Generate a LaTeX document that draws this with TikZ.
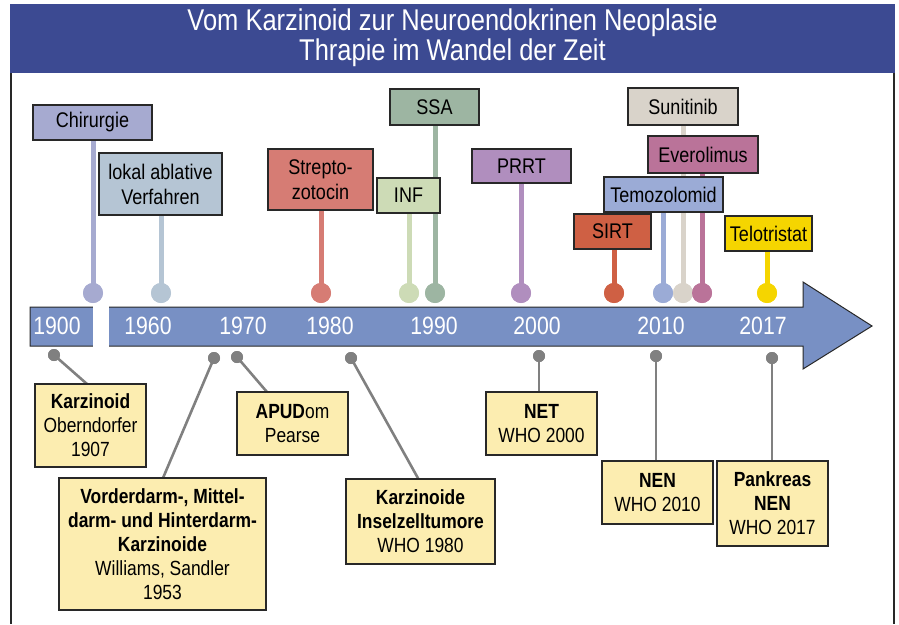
\documentclass[tikz,border=0pt]{standalone}
\usepackage{fontspec}
\setmainfont{Liberation Sans}[FakeStretch=0.85]
\usetikzlibrary{backgrounds}
\definecolor{banner}{RGB}{60,74,146}
\definecolor{arrowc}{RGB}{120,144,196}
\definecolor{ybox}{RGB}{252,237,176}
\definecolor{cchir}{RGB}{166,170,208}
\definecolor{cabl}{RGB}{181,197,212}
\definecolor{cstr}{RGB}{214,124,116}
\definecolor{cinf}{RGB}{205,219,182}
\definecolor{cssa}{RGB}{157,181,162}
\definecolor{cprrt}{RGB}{176,142,190}
\definecolor{csirt}{RGB}{207,96,68}
\definecolor{ctemo}{RGB}{155,171,214}
\definecolor{csuni}{RGB}{217,211,202}
\definecolor{cever}{RGB}{186,115,153}
\definecolor{ctelo}{RGB}{245,213,0}
\definecolor{gline}{RGB}{128,128,128}
\definecolor{edge}{RGB}{40,40,40}
\tikzset{
  topbox/.style={draw=edge, line width=1.2pt, inner sep=0pt, align=center,
    font=\fontsize{21.2}{25}\selectfont},
  botbox/.style={draw=edge, line width=1.2pt, fill=ybox, inner sep=0pt, align=center,
    font=\fontsize{20.5}{24}\selectfont},
  tdot/.style={circle, inner sep=0pt, minimum size=20pt},
  gdot/.style={circle, inner sep=0pt, minimum size=12pt, fill=gline},
  stem/.style={line width=5pt},
  gstem/.style={line width=2.6pt, draw=gline},
  year/.style={text=white, font=\fontsize{25}{28}\selectfont, inner sep=0pt}
}
\begin{document}
\begin{tikzpicture}[x=1pt,y=-1pt]
\useasboundingbox (0,0) rectangle (899,624);
% banner and frame
\fill[banner] (10,4) rectangle (895,73);
\node[text=white, align=center, font=\fontsize{30}{30}\selectfont] (title) at (452.5,38)
  {Vom Karzinoid zur Neuroendokrinen Neoplasie\\Thrapie im Wandel der Zeit};
\draw[edge, line width=1.5pt] (11,73) -- (11,624);
\draw[edge, line width=1.5pt] (894,73) -- (894,624);
% timeline arrow
\draw[fill=arrowc, draw=edge, line width=1pt] (30,307) -- (803,307) -- (803,282) -- (872,326)
  -- (803,369) -- (803,346) -- (30,346) -- cycle;
\fill[white] (92.5,305) rectangle (108.5,348);
\node[year] (y1900) at (57,326) {1900};
\node[year] (y1960) at (148,326) {1960};
\node[year] (y1970) at (243,326) {1970};
\node[year] (y1980) at (330,326) {1980};
\node[year] (y1990) at (434,326) {1990};
\node[year] (y2000) at (537,326) {2000};
\node[year] (y2010) at (661,326) {2010};
\node[year] (y2017) at (763,326) {2017};
% top boxes
\node[topbox, fill=cchir, minimum width=119pt, minimum height=35pt] (chir) at (92.5,122.5) {Chirurgie};
\node[topbox, fill=cabl, minimum width=123pt, minimum height=62pt] (abl) at (160.5,184) {lokal ablative\\Verfahren};
\node[topbox, fill=cstr, minimum width=105pt, minimum height=61pt] (str) at (320.5,179.5) {Strepto-\\zotocin};
\node[topbox, fill=cssa, minimum width=89pt, minimum height=36pt] (ssa) at (434.5,107) {SSA};
\node[topbox, fill=cinf, minimum width=63pt, minimum height=35pt] (inf) at (408.5,195.5) {INF};
\node[topbox, fill=cprrt, minimum width=99pt, minimum height=34pt] (prrt) at (521.5,166) {PRRT};
\node[topbox, fill=csuni, minimum width=110pt, minimum height=37pt] (suni) at (683,106.5) {Sunitinib};
\node[topbox, fill=cever, minimum width=110pt, minimum height=37pt] (ever) at (703,154.5) {Everolimus};
\node[topbox, fill=ctemo, minimum width=119pt, minimum height=35pt] (temo) at (663.5,194.5) {Temozolomid};
\node[topbox, fill=csirt, minimum width=77pt, minimum height=35pt] (sirt) at (612.5,231.5) {SIRT};
\node[topbox, fill=ctelo, minimum width=87pt, minimum height=35pt] (telo) at (768.5,233.5) {Telotristat};
% stems and dots (behind boxes)
\begin{scope}[on background layer]
\node[tdot, fill=cchir] (dchir) at (93,293) {};
\node[tdot, fill=cabl] (dabl) at (161,293) {};
\node[tdot, fill=cstr] (dstr) at (321,293) {};
\node[tdot, fill=cinf] (dinf) at (409,293) {};
\node[tdot, fill=cssa] (dssa) at (435,293) {};
\node[tdot, fill=cprrt] (dprrt) at (521,293) {};
\node[tdot, fill=csirt] (dsirt) at (614,293) {};
\node[tdot, fill=ctemo] (dtemo) at (663,293) {};
\node[tdot, fill=csuni] (dsuni) at (683,293) {};
\node[tdot, fill=cever] (dever) at (702,293) {};
\node[tdot, fill=ctelo] (dtelo) at (767,293) {};
\draw[stem, cchir] (dchir.center) -- (dchir |- chir.south);
\draw[stem, cabl] (dabl.center) -- (dabl |- abl.south);
\draw[stem, cstr] (dstr.center) -- (dstr |- str.south);
\draw[stem, cinf] (dinf.center) -- (dinf |- inf.south);
\draw[stem, cssa] (dssa.center) -- (dssa |- ssa.south);
\draw[stem, cprrt] (dprrt.center) -- (dprrt |- prrt.south);
\draw[stem, csirt] (dsirt.center) -- (dsirt |- sirt.south);
\draw[stem, ctemo] (dtemo.center) -- (dtemo |- temo.south);
\draw[stem, csuni] (dsuni.center) -- (dsuni |- suni.south);
\draw[stem, cever] (dever.center) -- (dever |- ever.south);
\draw[stem, ctelo] (dtelo.center) -- (dtelo |- telo.south);
\end{scope}
% redraw dots on top of stems
\node[tdot, fill=cchir] at (dchir) {};
\node[tdot, fill=cabl] at (dabl) {};
\node[tdot, fill=cstr] at (dstr) {};
\node[tdot, fill=cinf] at (dinf) {};
\node[tdot, fill=cssa] at (dssa) {};
\node[tdot, fill=cprrt] at (dprrt) {};
\node[tdot, fill=csirt] at (dsirt) {};
\node[tdot, fill=ctemo] at (dtemo) {};
\node[tdot, fill=csuni] at (dsuni) {};
\node[tdot, fill=cever] at (dever) {};
\node[tdot, fill=ctelo] at (dtelo) {};
% bottom boxes
\node[botbox, minimum width=111pt, minimum height=83pt] (karz) at (90.5,425.5)
  {\textbf{Karzinoid}\\Oberndorfer\\1907};
\node[botbox, minimum width=207pt, minimum height=132pt] (vord) at (162.5,544)
  {\textbf{Vorderdarm-, Mittel-}\\\textbf{darm- und Hinterdarm-}\\\textbf{Karzinoide}\\Williams, Sandler\\1953};
\node[botbox, minimum width=111pt, minimum height=63pt] (apud) at (292.5,423.5)
  {\textbf{APUD}om\\Pearse};
\node[botbox, minimum width=149pt, minimum height=85pt] (insel) at (420.5,521.5)
  {\textbf{Karzinoide}\\\textbf{Inselzelltumore}\\WHO 1980};
\node[botbox, minimum width=111pt, minimum height=63pt] (net) at (541.5,423.5)
  {\textbf{NET}\\WHO 2000};
\node[botbox, minimum width=111pt, minimum height=63pt] (nen) at (657.5,492.5)
  {\textbf{NEN}\\WHO 2010};
\node[botbox, minimum width=111pt, minimum height=85pt] (pank) at (772.5,503.5)
  {\textbf{Pankreas}\\\textbf{NEN}\\WHO 2017};
% gray connectors
\begin{scope}[on background layer]
\node[gdot] (gkarz) at (54,355) {};
\node[gdot] (gvord) at (214,358) {};
\node[gdot] (gapud) at (237,357) {};
\node[gdot] (ginsel) at (351,358) {};
\node[gdot] (gnet) at (539,356) {};
\node[gdot] (gnen) at (656,356) {};
\node[gdot] (gpank) at (772,358) {};
\coordinate (ekarz) at (87,384);
\coordinate (evord) at (163,478);
\coordinate (eapud) at (267,392);
\coordinate (einsel) at (419,480);
\draw[gstem] (gkarz.center) -- (ekarz);
\draw[gstem] (gvord.center) -- (evord);
\draw[gstem] (gapud.center) -- (eapud);
\draw[gstem] (ginsel.center) -- (einsel);
\draw[gstem] (gnet.center) -- (gnet |- net.north);
\draw[gstem] (gnen.center) -- (gnen |- nen.north);
\draw[gstem] (gpank.center) -- (gpank |- pank.north);
\end{scope}
\node[gdot] at (gkarz) {};
\node[gdot] at (gvord) {};
\node[gdot] at (gapud) {};
\node[gdot] at (ginsel) {};
\node[gdot] at (gnet) {};
\node[gdot] at (gnen) {};
\node[gdot] at (gpank) {};
\end{tikzpicture}
\end{document}
